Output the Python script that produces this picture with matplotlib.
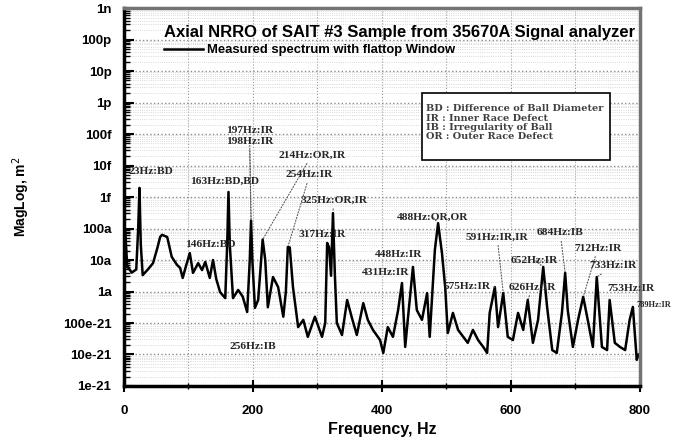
import numpy as np
import matplotlib.pyplot as plt
from matplotlib.patches import Rectangle
from matplotlib.ticker import FixedLocator, FixedFormatter, LogLocator, NullFormatter, MultipleLocator

# spectrum: frequency (Hz) and log10 of magnitude (m^2)
freq_hz = [0, 2, 5, 12, 19, 22, 24, 26, 29, 37, 45, 52, 56, 59, 67, 74, 82, 87, 91, 96,
           102, 107, 115, 121, 126, 133, 138, 143, 149, 157, 160, 162, 164, 169, 177, 184,
           191, 195, 197, 199, 203, 208, 215, 219, 223, 231, 239, 247, 251, 254, 257, 262,
           270, 278, 285, 296, 307, 312, 315, 318, 321, 324, 327, 330, 338, 346, 353, 361,
           371, 378, 386, 397, 402, 409, 417, 425, 431, 436, 440, 448, 454, 462, 470, 474,
           482, 487, 493, 498, 502, 510, 518, 526, 533, 541, 549, 557, 563, 567, 575, 580,
           588, 595, 603, 611, 619, 626, 634, 642, 650, 656, 664, 671, 679, 684, 688, 696,
           704, 712, 719, 727, 733, 741, 749, 753, 761, 769, 777, 784, 789, 795, 798]
mag_exp = [-17.1, -16.1, -17.2, -17.4, -17.3, -16.0, -14.71, -16.5, -17.48, -17.3, -17.1,
           -16.6, -16.27, -16.2, -16.27, -16.9, -17.15, -17.25, -17.57, -17.2,
           -16.78, -17.41, -17.1, -17.32, -17.06, -17.57, -17.0, -17.6, -18.02, -18.21,
           -16.5, -14.84, -16.5, -18.21, -17.95, -18.16,
           -18.65, -17.0, -15.75, -17.0, -18.52, -18.27, -16.35, -17.0, -18.5, -17.54,
           -17.86, -18.8, -18.0, -16.59, -16.6, -17.86,
           -19.13, -18.9, -19.44, -18.8, -19.44, -19.0, -16.46, -16.6, -17.5, -15.51,
           -17.5, -19.0, -19.38, -18.27, -18.81, -19.38,
           -18.37, -18.9, -19.22, -19.54, -19.95, -19.13, -19.44, -18.59, -17.73, -19.76,
           -18.9, -17.22, -18.59, -18.9, -18.05, -19.44,
           -16.68, -15.83, -16.78, -17.86, -19.32, -18.68, -19.22, -19.44, -19.63, -19.22,
           -19.54, -19.76, -19.95, -18.68, -17.86, -19.13,
           -18.05, -19.44, -19.54, -18.68, -19.22, -18.27, -19.63, -18.9, -17.22, -18.49,
           -19.86, -19.95, -18.68, -17.41, -18.59, -19.76,
           -18.9, -18.17, -18.9, -19.76, -17.54, -19.76, -19.86, -18.27, -19.63, -19.76,
           -19.86, -18.9, -18.49, -20.17, -20.0]

y_tick_exp = list(range(-21, -8))
y_tick_labels = ['1e-21', '10e-21', '100e-21', '1a', '10a', '100a', '1f', '10f',
                 '100f', '1p', '10p', '100p', '1n']
x_ticks = [0, 200, 400, 600, 800]

# peak labels: text, label position (Hz, log10 mag), peak the leader points to (or None)
peak_labels = ['23Hz:BD', '163Hz:BD,BD', '197Hz:IR', '198Hz:IR', '214Hz:OR,IR',
               '254Hz:IR', '325Hz:OR,IR', '317Hz:IR', '146Hz:BD', '256Hz:IB',
               '488Hz:OR,OR', '448Hz:IR', '431Hz:IR', '591Hz:IR,IR', '684Hz:IB',
               '712Hz:IR', '652Hz:IR', '733Hz:IR', '575Hz:IR', '626Hz:IR', '753Hz:IR',
               '789Hz:IR']
label_pos = [(7, -14.2), (102, -14.49), (158, -12.9), (158, -13.25), (239, -13.67),
             (251, -14.3), (273, -15.1), (270, -16.2), (95, -16.5), (164, -19.76),
             (423, -15.63), (389, -16.84), (369, -17.41), (530, -16.27), (640, -16.14),
             (698, -16.62), (600, -17.0), (722, -17.19), (496, -17.83), (597, -17.86),
             (750, -17.89), (795, -18.43)]
leader_to = [None, None, 197, 197, 215, 254, 324, None, None, None,
             487, None, None, 588, 684, 712, 650, 733, 575, 626, None, None]

defect_key = ('BD : Difference of Ball Diameter\n'
              'IR : Inner Race Defect\n'
              'IB : Irregularity of Ball\n'
              'OR : Outer Race Defect')

mag = 10.0 ** np.array(mag_exp)

fig = plt.figure(figsize=(6.75, 4.48), dpi=100)
ax = fig.add_axes([0.1837, 0.1384, 0.7644, 0.8437])

ax.plot(freq_hz, mag, color='black', lw=1.8, label='Measured spectrum with flattop Window')

ax.set_yscale('log')
ax.set_xlim(0, 800)
ax.set_ylim(1e-21, 1e-9)

ax.yaxis.set_major_locator(FixedLocator([10.0 ** e for e in y_tick_exp]))
ax.yaxis.set_major_formatter(FixedFormatter(y_tick_labels))
ax.yaxis.set_minor_locator(LogLocator(base=10, subs=np.arange(2, 10), numticks=20))
ax.yaxis.set_minor_formatter(NullFormatter())
ax.xaxis.set_major_locator(FixedLocator(x_ticks))
ax.xaxis.set_minor_locator(MultipleLocator(100))

tick_font = dict(family='Liberation Sans', weight='bold', size=9.5)
for lab in ax.get_xticklabels() + ax.get_yticklabels():
    lab.set_fontproperties(tick_font)
ax.tick_params(axis='y', which='major', direction='in', length=7, width=1.5, pad=9)
ax.tick_params(axis='y', which='minor', direction='in', length=4, width=1)
ax.tick_params(axis='x', which='major', direction='inout', length=8, width=1.5, pad=10)
ax.tick_params(axis='x', which='minor', direction='inout', length=5, width=1)

ax.grid(True, which='major', axis='y', color='0.55', ls=':', lw=1.0)
ax.grid(True, which='minor', axis='y', color='0.8', ls=':', lw=0.6)
ax.grid(True, which='both', axis='x', color='0.6', ls=':', lw=0.8)

for side in ['left', 'bottom']:
    ax.spines[side].set_linewidth(2.5)
for side in ['top', 'right']:
    ax.spines[side].set_linewidth(2.5)
    ax.spines[side].set_color('0.45')

ax.set_xlabel('Frequency, Hz', family='Liberation Sans', weight='bold', size=11.5, labelpad=3)
ax.set_ylabel('MagLog, m$^2$', family='Liberation Sans', weight='bold', size=10, labelpad=22)

leg = ax.legend(loc='upper left', bbox_to_anchor=(0.055, 0.985), frameon=False,
                title='Axial NRRO of SAIT #3 Sample from 35670A Signal analyzer',
                prop=dict(family='Liberation Sans', weight='bold', size=9.4),
                handlelength=3.0, handletextpad=0.3, borderpad=0.4, labelspacing=0.3)
leg.get_title().set_fontproperties(dict(family='Liberation Sans', weight='bold', size=12.0))
leg._legend_box.align = 'left'

# defect key box
ax.add_patch(Rectangle((0.5775, 0.598), 0.3645, 0.177, transform=ax.transAxes,
                       fc='white', ec='black', lw=1.2, zorder=4))
ax.text(0.585, 0.745, defect_key, transform=ax.transAxes, ha='left', va='top',
        family='DejaVu Serif', weight='bold', size=7, color='0.25', linespacing=1.05,
        zorder=5)

for text, (lx, ly), target in zip(peak_labels, label_pos, leader_to):
    size = 6 if text == '789Hz:IR' else 8.2
    if target is None:
        ax.text(lx, 10.0 ** ly, text, ha='left', va='center', family='Liberation Serif',
                weight='bold', size=size, color='0.15', clip_on=False, zorder=6)
    else:
        i = freq_hz.index(target)
        ax.annotate(text, xy=(freq_hz[i], mag[i]), xytext=(lx, 10.0 ** ly),
                    ha='left', va='center', family='Liberation Serif', weight='bold',
                    size=size, color='0.15', zorder=6,
                    arrowprops=dict(arrowstyle='-', ls=':', lw=0.8, color='0.35',
                                    shrinkA=1, shrinkB=1))

fig.savefig('out.png', dpi=100)
